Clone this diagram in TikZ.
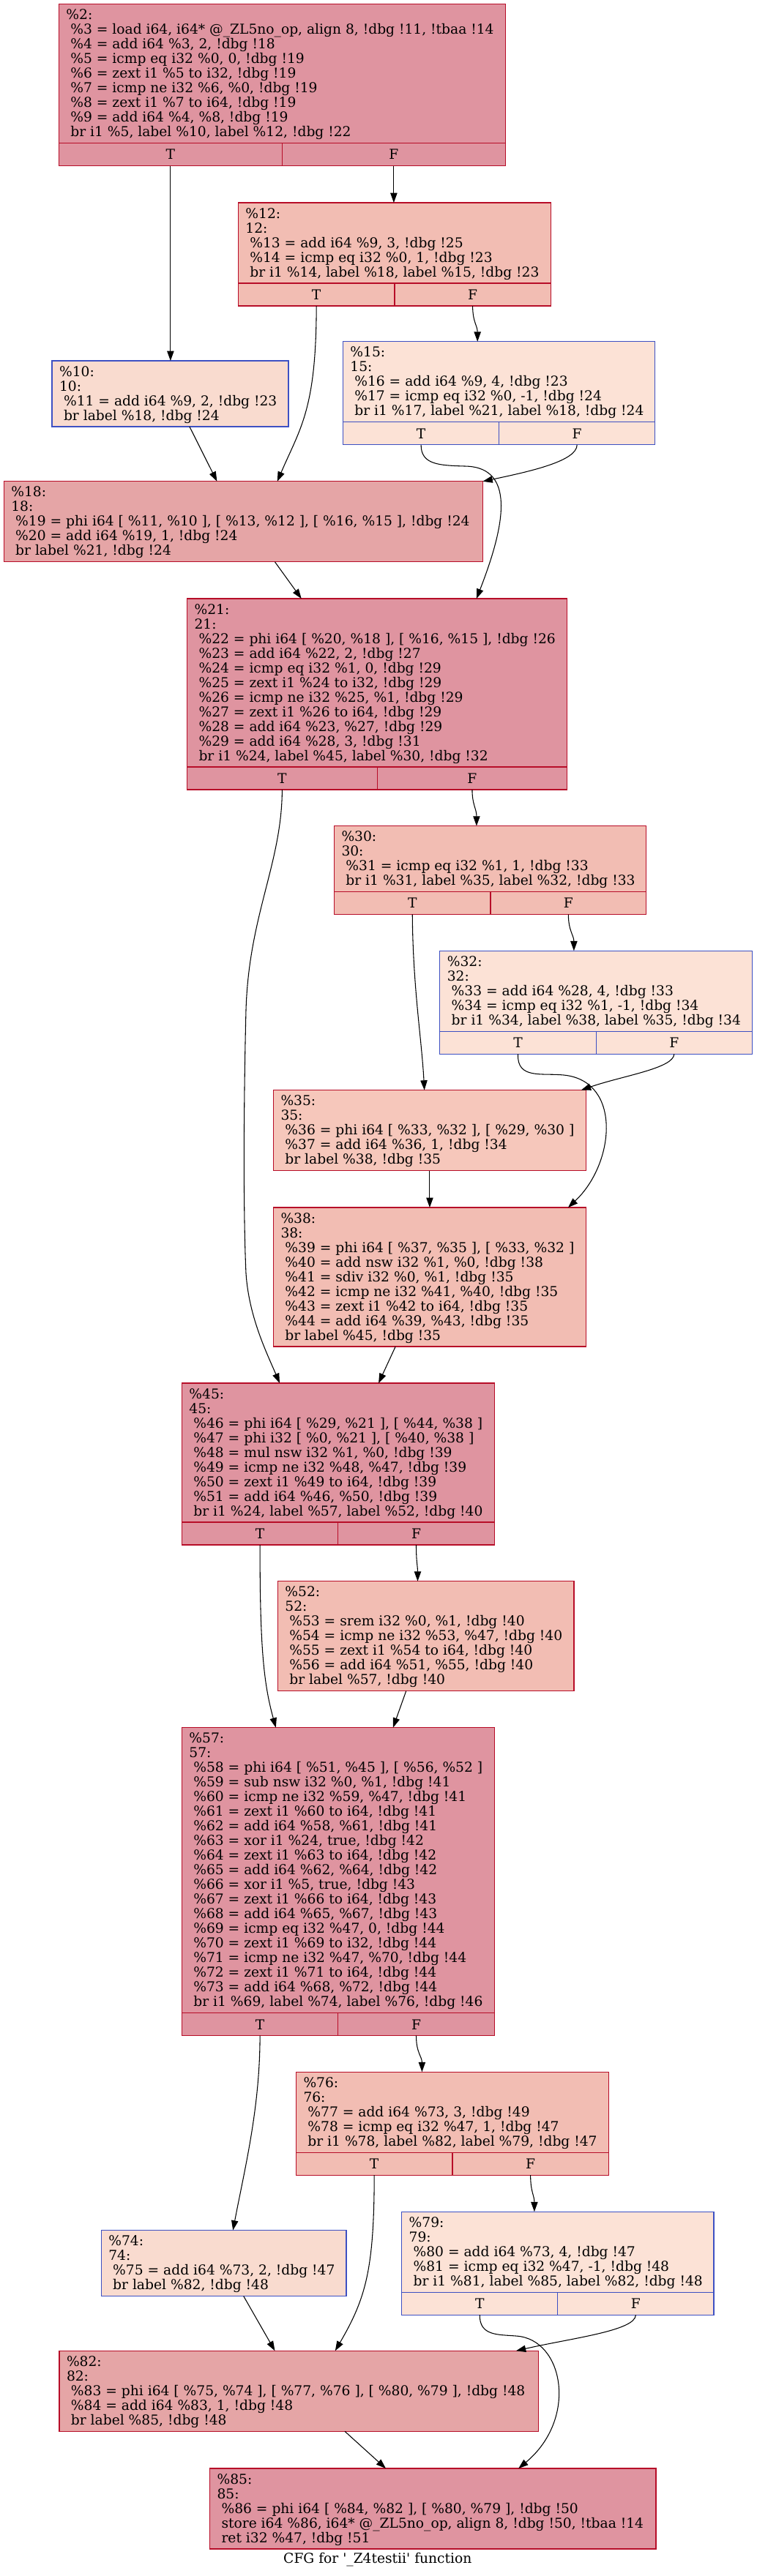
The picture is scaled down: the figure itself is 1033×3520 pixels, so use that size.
\documentclass[tikz,border=0pt]{standalone}
\usepackage{fontspec}
\newfontfamily\cfgfont{DejaVu Serif}
\usetikzlibrary{arrows.meta}
\definecolor{cRed}{HTML}{B70D28}
\definecolor{cBlue}{HTML}{3D50C3}
\definecolor{fHot}{HTML}{DF94A0}
\definecolor{fMid}{HTML}{E5A5A6}
\definecolor{fWarm}{HTML}{F2BDB3}
\definecolor{fSoft}{HTML}{F6C7BB}
\definecolor{fCool}{HTML}{F9DBCF}
\definecolor{fCold}{HTML}{FCE2D6}
\newcommand\ind{\hspace*{4.45pt}}
\newcommand\cfgblock[7]{%
  \node[blockbox, #6, anchor=north west, minimum width={(#4-#2)*0.75pt}, minimum height={(#5-#3)*0.75pt}] (#1) at (#2,#3) {};
  \node[blocktext, anchor=north west] (#1txt) at ({#2+10},{#3+5}) {\rule{0pt}{12pt}#7};
}
\newcommand\cfgtf[6]{%
  \node[blockbox, #6, anchor=north west, minimum width={(#4-#2)*0.75pt}, minimum height=23.25pt] (#1T) at (#2,#3) {T};
  \node[blockbox, #6, anchor=north west, minimum width={(#5-#4)*0.75pt}, minimum height=23.25pt] (#1F) at (#4,#3) {F};
}
\tikzset{
  blockbox/.style={draw, line width=1pt, inner sep=0pt, outer sep=0pt, font=\cfgfont\fontsize{14}{15}\selectfont},
  blocktext/.style={inner sep=0pt, outer sep=0pt, align=left, font=\cfgfont\fontsize{14}{15}\selectfont},
  hot/.style={fill=fHot, draw=cRed},
  mid/.style={fill=fMid, draw=cRed},
  warm/.style={fill=fWarm, draw=cRed},
  soft/.style={fill=fSoft, draw=cRed},
  cool/.style={fill=fCool, draw=cBlue},
  cold/.style={fill=fCold, draw=cBlue},
  cfgarrow/.style={draw=black, line width=0.8pt, -{Triangle[length=10pt,width=7pt]}},
  captext/.style={inner sep=0pt, font=\cfgfont\fontsize{14}{15}\selectfont},
}
\begin{document}
\begin{tikzpicture}[x=0.75pt,y=-0.75pt]
\useasboundingbox (0,0) rectangle (1033,3520);

% %2
\cfgblock{n2}{80.4}{5.5}{690.4}{195.5}{hot}{\%2:\\
\ind\%3 = load i64, i64* @\_ZL5no\_op, align 8, !dbg !11, !tbaa !14\\
\ind\%4 = add i64 \%3, 2, !dbg !18\\
\ind\%5 = icmp eq i32 \%0, 0, !dbg !19\\
\ind\%6 = zext i1 \%5 to i32, !dbg !19\\
\ind\%7 = icmp ne i32 \%6, \%0, !dbg !19\\
\ind\%8 = zext i1 \%7 to i64, !dbg !19\\
\ind\%9 = add i64 \%4, \%8, !dbg !19\\
\ind br i1 \%5, label \%10, label \%12, !dbg !22}
\cfgtf{n2}{80.4}{195.5}{385.4}{690.4}{hot}

% %12
\cfgblock{n12}{325.4}{277}{752.3}{387}{warm}{\%12:\\
12:\\
\ind\%13 = add i64 \%9, 3, !dbg !25\\
\ind\%14 = icmp eq i32 \%0, 1, !dbg !23\\
\ind br i1 \%14, label \%18, label \%15, !dbg !23}
\cfgtf{n12}{325.4}{387}{538.9}{752.3}{warm}

% %10
\cfgblock{n10}{71.1}{493}{393.9}{583}{cool}{\%10:\\
10:\\
\ind\%11 = add i64 \%9, 2, !dbg !23\\
\ind br label \%18, !dbg !24}

% %15
\cfgblock{n15}{468.4}{466.8}{894.6}{576.8}{cold}{\%15:\\
15:\\
\ind\%16 = add i64 \%9, 4, !dbg !23\\
\ind\%17 = icmp eq i32 \%0, -1, !dbg !24\\
\ind br i1 \%17, label \%21, label \%18, !dbg !24}
\cfgtf{n15}{468.4}{576.8}{681.8}{894.6}{cold}

% %18
\cfgblock{n18}{5.3}{657.8}{659.4}{767.8}{mid}{\%18:\\
18:\\
\ind\%19 = phi i64 [ \%11, \%10 ], [ \%13, \%12 ], [ \%16, \%15 ], !dbg !24\\
\ind\%20 = add i64 \%19, 1, !dbg !24\\
\ind br label \%21, !dbg !24}

% %21
\cfgblock{n21}{255.6}{818}{774.7}{1048}{hot}{\%21:\\
21:\\
\ind\%22 = phi i64 [ \%20, \%18 ], [ \%16, \%15 ], !dbg !26\\
\ind\%23 = add i64 \%22, 2, !dbg !27\\
\ind\%24 = icmp eq i32 \%1, 0, !dbg !29\\
\ind\%25 = zext i1 \%24 to i32, !dbg !29\\
\ind\%26 = icmp ne i32 \%25, \%1, !dbg !29\\
\ind\%27 = zext i1 \%26 to i64, !dbg !29\\
\ind\%28 = add i64 \%23, \%27, !dbg !29\\
\ind\%29 = add i64 \%28, 3, !dbg !31\\
\ind br i1 \%24, label \%45, label \%30, !dbg !32}
\cfgtf{n21}{255.6}{1048}{515.2}{774.7}{hot}

% %30
\cfgblock{n30}{456.5}{1128.6}{882.7}{1218.6}{warm}{\%30:\\
30:\\
\ind\%31 = icmp eq i32 \%1, 1, !dbg !33\\
\ind br i1 \%31, label \%35, label \%32, !dbg !33}
\cfgtf{n30}{456.5}{1218.6}{670}{882.7}{warm}

% %32
\cfgblock{n32}{600.8}{1299.3}{1027.5}{1409.3}{cold}{\%32:\\
32:\\
\ind\%33 = add i64 \%28, 4, !dbg !33\\
\ind\%34 = icmp eq i32 \%1, -1, !dbg !34\\
\ind br i1 \%34, label \%38, label \%35, !dbg !34}
\cfgtf{n32}{600.8}{1409.3}{814.2}{1027.5}{cold}

% %35
\cfgblock{n35}{373.5}{1489.6}{800.4}{1599.6}{soft}{\%35:\\
35:\\
\ind\%36 = phi i64 [ \%33, \%32 ], [ \%29, \%30 ]\\
\ind\%37 = add i64 \%36, 1, !dbg !34\\
\ind br label \%38, !dbg !35}

% %38
\cfgblock{n38}{373.5}{1650}{800.4}{1840}{warm}{\%38:\\
38:\\
\ind\%39 = phi i64 [ \%37, \%35 ], [ \%33, \%32 ]\\
\ind\%40 = add nsw i32 \%1, \%0, !dbg !38\\
\ind\%41 = sdiv i32 \%0, \%1, !dbg !35\\
\ind\%42 = icmp ne i32 \%41, \%40, !dbg !35\\
\ind\%43 = zext i1 \%42 to i64, !dbg !35\\
\ind\%44 = add i64 \%39, \%43, !dbg !35\\
\ind br label \%45, !dbg !35}

% %45
\cfgblock{n45}{248.4}{1890}{675.2}{2080}{hot}{\%45:\\
45:\\
\ind\%46 = phi i64 [ \%29, \%21 ], [ \%44, \%38 ]\\
\ind\%47 = phi i32 [ \%0, \%21 ], [ \%40, \%38 ]\\
\ind\%48 = mul nsw i32 \%1, \%0, !dbg !39\\
\ind\%49 = icmp ne i32 \%48, \%47, !dbg !39\\
\ind\%50 = zext i1 \%49 to i64, !dbg !39\\
\ind\%51 = add i64 \%46, \%50, !dbg !39\\
\ind br i1 \%24, label \%57, label \%52, !dbg !40}
\cfgtf{n45}{248.4}{2080}{461.8}{675.2}{hot}

% %52
\cfgblock{n52}{379.4}{2160.7}{783.9}{2310.7}{warm}{\%52:\\
52:\\
\ind\%53 = srem i32 \%0, \%1, !dbg !40\\
\ind\%54 = icmp ne i32 \%53, \%47, !dbg !40\\
\ind\%55 = zext i1 \%54 to i64, !dbg !40\\
\ind\%56 = add i64 \%51, \%55, !dbg !40\\
\ind br label \%57, !dbg !40}

% %57
\cfgblock{n57}{248.4}{2360.7}{675.2}{2750.7}{hot}{\%57:\\
57:\\
\ind\%58 = phi i64 [ \%51, \%45 ], [ \%56, \%52 ]\\
\ind\%59 = sub nsw i32 \%0, \%1, !dbg !41\\
\ind\%60 = icmp ne i32 \%59, \%47, !dbg !41\\
\ind\%61 = zext i1 \%60 to i64, !dbg !41\\
\ind\%62 = add i64 \%58, \%61, !dbg !41\\
\ind\%63 = xor i1 \%24, true, !dbg !42\\
\ind\%64 = zext i1 \%63 to i64, !dbg !42\\
\ind\%65 = add i64 \%62, \%64, !dbg !42\\
\ind\%66 = xor i1 \%5, true, !dbg !43\\
\ind\%67 = zext i1 \%66 to i64, !dbg !43\\
\ind\%68 = add i64 \%65, \%67, !dbg !43\\
\ind\%69 = icmp eq i32 \%47, 0, !dbg !44\\
\ind\%70 = zext i1 \%69 to i32, !dbg !44\\
\ind\%71 = icmp ne i32 \%47, \%70, !dbg !44\\
\ind\%72 = zext i1 \%71 to i64, !dbg !44\\
\ind\%73 = add i64 \%68, \%72, !dbg !44\\
\ind br i1 \%69, label \%74, label \%76, !dbg !46}
\cfgtf{n57}{248.4}{2750.7}{461.8}{675.2}{hot}

% %76
\cfgblock{n76}{404.5}{2831.2}{831.4}{2941.2}{warm}{\%76:\\
76:\\
\ind\%77 = add i64 \%73, 3, !dbg !49\\
\ind\%78 = icmp eq i32 \%47, 1, !dbg !47\\
\ind br i1 \%78, label \%82, label \%79, !dbg !47}
\cfgtf{n76}{404.5}{2941.2}{617.9}{831.4}{warm}

% %74
\cfgblock{n74}{138.3}{3047.5}{473}{3137.5}{cool}{\%74:\\
74:\\
\ind\%75 = add i64 \%73, 2, !dbg !47\\
\ind br label \%82, !dbg !48}

% %79
\cfgblock{n79}{548.7}{3022.2}{975}{3132.2}{cold}{\%79:\\
79:\\
\ind\%80 = add i64 \%73, 4, !dbg !47\\
\ind\%81 = icmp eq i32 \%47, -1, !dbg !48\\
\ind br i1 \%81, label \%85, label \%82, !dbg !48}
\cfgtf{n79}{548.7}{3132.2}{761.8}{975}{cold}

% %82
\cfgblock{n82}{81}{3212.3}{735.8}{3322.3}{mid}{\%82:\\
82:\\
\ind\%83 = phi i64 [ \%75, \%74 ], [ \%77, \%76 ], [ \%80, \%79 ], !dbg !48\\
\ind\%84 = add i64 \%83, 1, !dbg !48\\
\ind br label \%85, !dbg !48}

% %85
\cfgblock{n85}{286.6}{3373}{895.9}{3483}{hot}{\%85:\\
85:\\
\ind\%86 = phi i64 [ \%84, \%82 ], [ \%80, \%79 ], !dbg !50\\
\ind store i64 \%86, i64* @\_ZL5no\_op, align 8, !dbg !50, !tbaa !14\\
\ind ret i32 \%47, !dbg !51}

\node[captext] (caption) at (515.8,3498) {CFG for '\_Z4testii' function};

% edges
\draw[cfgarrow] (n2T.south) -- (n10.north -| n2T.south);
\draw[cfgarrow] (n2F.south) -- (n12.north -| n2F.south);
\draw[cfgarrow] (n12T.south) .. controls (432,560) and (410,585) .. (n18.north -| 378.8,0);
\draw[cfgarrow] (n12F.south) .. controls (645.6,440) and (652.2,445) .. (n15.north -| 652.2,0);
\draw[cfgarrow] (n10.south -| 258.9,0) -- (n18.north -| 296.4,0);
\draw[cfgarrow] (n15T.south) .. controls (575,635) and (600,636) .. (635,637) .. controls (710,638) and (685,730) .. (n21.north -| 650.9,0);
\draw[cfgarrow] (n15F.south) .. controls (788,630) and (725,644) .. (n18.north east);
\draw[cfgarrow] (n18.south -| 375.5,0) -- (n21.north -| 411.7,0);
\draw[cfgarrow] (n21T.south) .. controls (385,1180) and (340,1250) .. (336,1380) .. controls (333,1500) and (332,1650) .. (336,1740) .. controls (340,1800) and (365,1850) .. (n45.north -| 382,0);
\draw[cfgarrow] (n21F.south) .. controls (645,1100) and (651,1105) .. (n30.north -| 650.9,0);
\draw[cfgarrow] (n30T.south) .. controls (564,1350) and (576,1420) .. (n35.north -| 579.7,0);
\draw[cfgarrow] (n30F.south) .. controls (776.4,1272) and (783.9,1278) .. (n32.north -| 783.9,0);
\draw[cfgarrow] (n32T.south) .. controls (706,1475) and (740,1466) .. (770,1469) .. controls (850,1477) and (840,1590) .. (n38.north -| 776,0);
\draw[cfgarrow] (n32F.south) .. controls (920,1460) and (850,1470) .. (n35.north -| 793.8,0);
\draw[cfgarrow] (n35.south) -- (n38.north);
\draw[cfgarrow] (n38.south -| 540.2,0) -- (n45.north -| 517.1,0);
\draw[cfgarrow] (n45T.south) .. controls (355,2250) and (360,2300) .. (n57.north -| 376.8,0);
\draw[cfgarrow] (n45F.south) .. controls (568.5,2135) and (570.5,2140) .. (n52.north -| 570.5,0);
\draw[cfgarrow] (n52.south -| 554.7,0) -- (n57.north -| 536.9,0);
\draw[cfgarrow] (n57T.south) .. controls (355,2880) and (335,2960) .. (n74.north -| 318.2,0);
\draw[cfgarrow] (n57F.south) .. controls (568.5,2805) and (576.4,2810) .. (n76.north -| 576.4,0);
\draw[cfgarrow] (n76T.south) .. controls (511,3100) and (500,3140) .. (n82.north -| 457.8,0);
\draw[cfgarrow] (n76F.south) .. controls (724.6,2995) and (729.9,3000) .. (n79.north -| 729.9,0);
\draw[cfgarrow] (n74.south -| 332.7,0) -- (n82.north -| 375.5,0);
\draw[cfgarrow] (n79T.south) .. controls (655,3192) and (680,3190) .. (705,3192) .. controls (770,3196) and (790,3305) .. (n85.north -| 708.2,0);
\draw[cfgarrow] (n79F.south) .. controls (868,3185) and (780,3195) .. (n82.north -| 704.9,0);
\draw[cfgarrow] (n82.south -| 471,0) -- (n85.north -| 527,0);
\end{tikzpicture}
\end{document}
